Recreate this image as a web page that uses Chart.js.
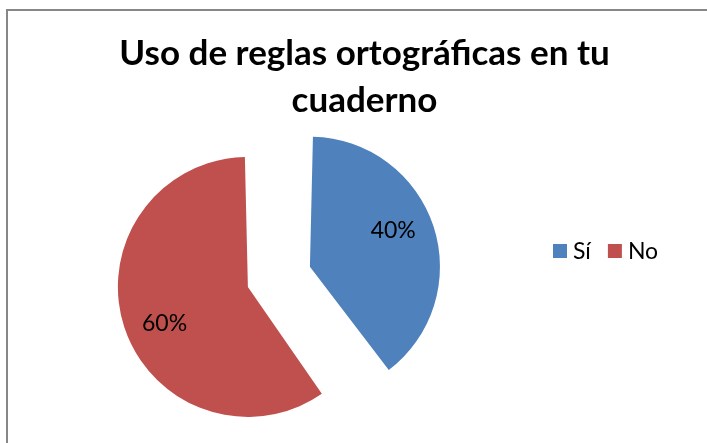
<!DOCTYPE html>
<html>
<head>
<meta charset="utf-8">
<script src="https://cdn.jsdelivr.net/npm/chart.js@4.4.0/dist/chart.umd.min.js"></script>
<style>
  html, body { margin: 0; padding: 0; background: #fff; overflow: hidden; width: 707px; height: 443px; }
  #marco { position: absolute; left: 6px; top: 9px; width: 760px; height: 500px;
           border-left: 2px solid #878787; border-top: 2px solid #878787; }
  #grafico { position: absolute; left: 11px; top: 0; }
</style>
</head>
<body>
<div id="marco"></div>
<canvas id="grafico" width="707" height="443"></canvas>
<script>
// Datos del gráfico
const categorias = ['Sí', 'No'];
const porcentajes = [40, 60];
const colores = ['#4F81BD', '#C0504D'];
const titulo = ['Uso de reglas ortográficas en tu', 'cuaderno'];

// Etiquetas de porcentaje dentro de cada porción
const etiquetasPorcentaje = {
    id: 'etiquetasPorcentaje',
    afterDatasetsDraw(chart) {
        const ctx = chart.ctx;
        const meta = chart.getDatasetMeta(0);
        ctx.save();
        ctx.font = '23px Lato';
        ctx.fillStyle = '#000';
        ctx.textAlign = 'center';
        ctx.textBaseline = 'middle';
        meta.data.forEach((arco, i) => {
            const p = arco.getProps(['x', 'y', 'startAngle', 'endAngle', 'outerRadius'], true);
            const desp = (arco.options.offset || 0) / 4;
            const medio = (p.startAngle + p.endAngle) / 2;
            const circ = p.endAngle - p.startAngle;
            const radio = p.outerRadius + desp * (1 - Math.sin(Math.min(Math.PI, circ)));
            const cx = p.x + Math.cos(medio) * desp;
            const cy = p.y + Math.sin(medio) * desp;
            const d = radio * 0.7;
            const ang = medio - 0.1;
            ctx.fillText(porcentajes[i] + '%', cx + Math.cos(ang) * d, cy + Math.sin(ang) * d);
        });
        ctx.restore();
    }
};

// Leyenda horizontal a la derecha (como en Excel), como caja del layout
const leyendaDerecha = {
    id: 'leyendaDerecha',
    beforeInit(chart) {
        const caja = {
            position: 'right',
            fullSize: false,
            weight: 0,
            options: {},
            left: 0, top: 0, right: 0, bottom: 0, width: 0, height: 0,
            update(maxWidth, maxHeight) {
                this.width = 197;
                this.height = maxHeight;
            },
            isHorizontal() { return false; },
            draw() {
                const ctx = chart.ctx;
                const yCentro = 251;
                let x = this.left + 32;
                ctx.save();
                ctx.font = '23px Lato';
                ctx.textBaseline = 'middle';
                categorias.forEach((cat, i) => {
                    ctx.fillStyle = colores[i];
                    ctx.fillRect(x, yCentro - 7, 14, 14);
                    ctx.fillStyle = '#000';
                    ctx.fillText(cat, x + 20, yCentro + 1);
                    x += 20 + ctx.measureText(cat).width + 17;
                });
                ctx.restore();
            }
        };
        Chart.layouts.addBox(chart, caja);
    }
};

Chart.defaults.font.family = 'Lato';
Chart.defaults.color = '#000';

new Chart(document.getElementById('grafico').getContext('2d'), {
    type: 'pie',
    data: {
        labels: categorias,
        datasets: [{
            data: porcentajes,
            backgroundColor: colores,
            borderWidth: 0,
            radius: 111,
            offset: [184.7, 76.1]
        }]
    },
    options: {
        responsive: false,
        animation: false,
        events: [],
        layout: {
            padding: { left: 0, right: 0, top: 0, bottom: 5 }
        },
        plugins: {
            legend: { display: false },
            tooltip: { enabled: false },
            title: {
                display: true,
                text: titulo,
                color: '#000',
                font: { size: 35, weight: 'bold', lineHeight: 47 / 35 },
                padding: { top: 30, bottom: 0 }
            }
        }
    },
    plugins: [etiquetasPorcentaje, leyendaDerecha]
});
</script>
</body>
</html>
